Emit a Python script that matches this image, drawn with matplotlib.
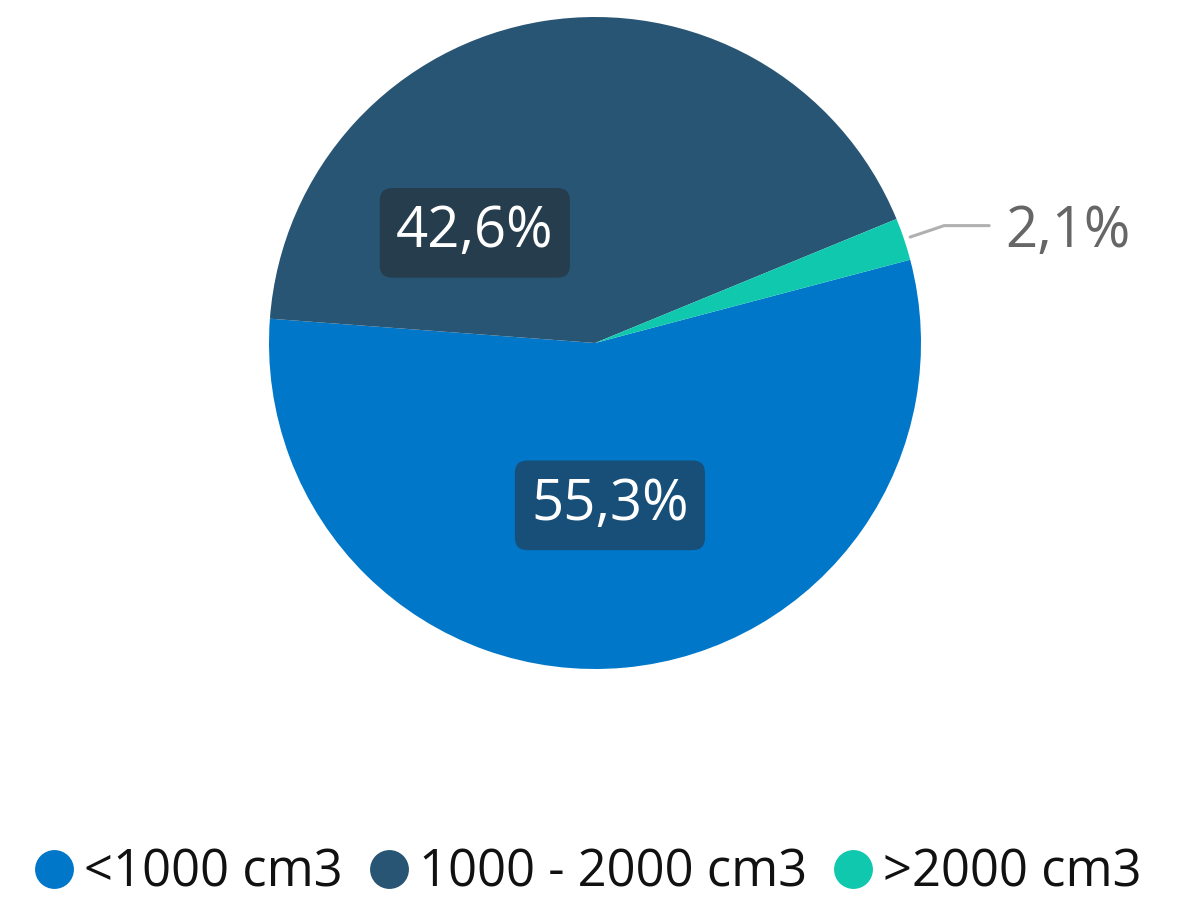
import numpy as np
import matplotlib.pyplot as plt
from matplotlib.lines import Line2D

plt.rcParams['font.family'] = ['Open Sans', 'DejaVu Sans']

# данные
categories = ['<1000 cm3', '1000 - 2000 cm3', '>2000 cm3']
shares = [55.3, 42.6, 2.1]
labels = ['55,3%', '42,6%', '2,1%']
colors = ['#0077C8', '#285573', '#0FC8AE']
box_colors = ['#174F78', '#263D4E', None]

W, H = 1178, 906
fig = plt.figure(figsize=(W / 100, H / 100), dpi=100)
ax = fig.add_axes([0, 0, 1, 1])

cx, cy, R = 595, H - 343, 326
start = 14.8

wedges, _ = ax.pie(shares, colors=colors, startangle=start, counterclock=False,
                   center=(cx, cy), radius=R, frame=True,
                   wedgeprops=dict(linewidth=0))
ax.set_xlim(0, W)
ax.set_ylim(0, H)
ax.set_aspect('equal')
ax.axis('off')

# подписи внутри: угол (град) и доля радиуса
inside = {0: (None, 0.5), 1: (137.5, 0.5)}
for i, (ang, rf) in inside.items():
    w = wedges[i]
    if ang is None:
        ang = (w.theta1 + w.theta2) / 2
    x = cx + rf * R * np.cos(np.radians(ang))
    y = cy + rf * R * np.sin(np.radians(ang))
    ax.text(x, y, labels[i], ha='center', va='center', fontsize=40.5,
            color='white',
            bbox=dict(boxstyle='round,pad=0.29,rounding_size=0.22',
                      facecolor=box_colors[i], edgecolor='none'))

# внешняя подпись маленького сектора
w = wedges[2]
mid = np.radians((w.theta1 + w.theta2) / 2)
p0 = (cx + 1.02 * R * np.cos(mid), cy + 1.02 * R * np.sin(mid))
p1 = (cx + 1.13 * R * np.cos(mid), cy + 1.13 * R * np.sin(mid))
p2 = (p1[0] + 45, p1[1])
ax.plot([p0[0], p1[0], p2[0]], [p0[1], p1[1], p2[1]], color='#B0B0B0', lw=2.2,
        solid_capstyle='round')
ax.text(p2[0] + 16, p2[1] - 7, labels[2], ha='left', va='center', fontsize=40.5,
        color='#666666')

# легенда
handles = [Line2D([], [], marker='o', linestyle='none', markersize=28,
                  markerfacecolor=c, markeredgecolor='none') for c in colors]
fig.legend(handles, categories, loc='center', bbox_to_anchor=(0.5, 1 - 873 / H),
           ncol=3, frameon=False, fontsize=36.5, handlelength=0.7,
           handletextpad=0.25, columnspacing=0.55, labelcolor='#111111')

fig.savefig('out.png', dpi=100)
